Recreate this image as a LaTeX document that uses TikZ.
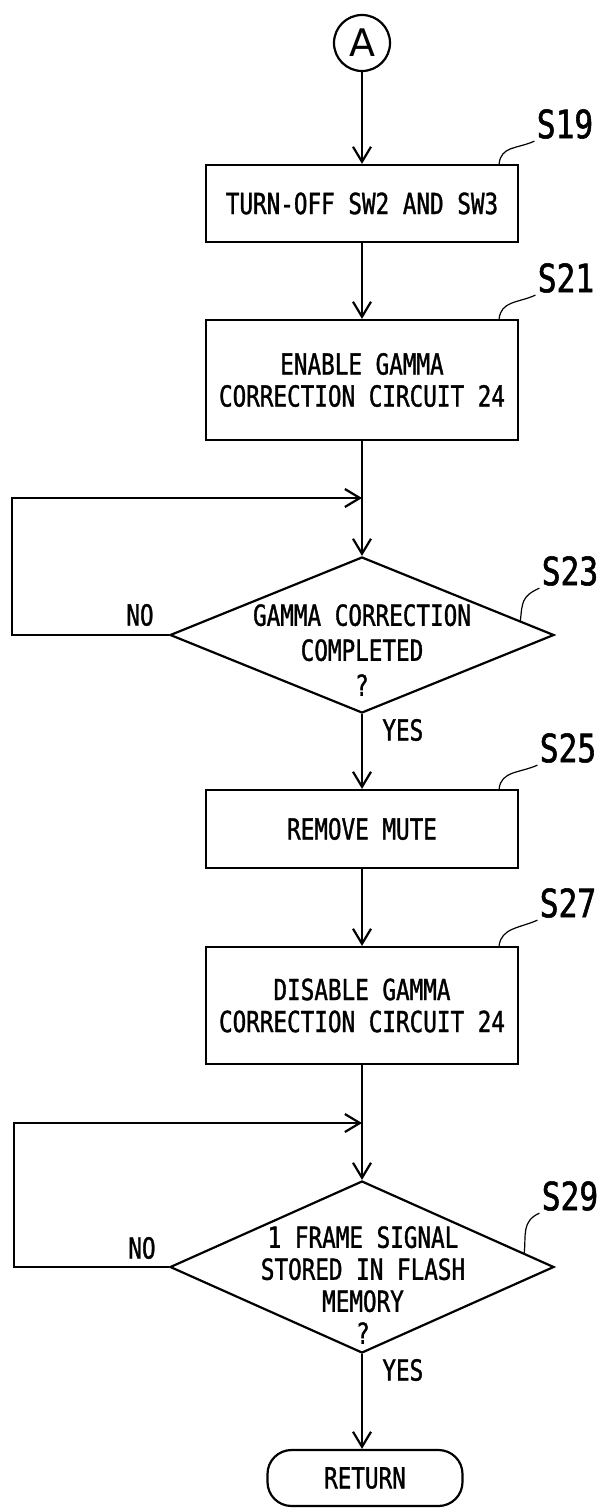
\documentclass[tikz,border=0pt]{standalone}
\usepackage{fontspec}
\setmainfont{DejaVu Sans Mono}[FakeStretch=0.78, FakeBold=1.2]
\newfontfamily\labfont{DejaVu Sans Mono}[FakeStretch=0.8, FakeBold=1.4]
\newfontfamily\circfont{DejaVu Sans}
\usetikzlibrary{shapes.geometric,arrows.meta,calc}
\tikzset{
  txt/.style={font=\fontsize{14.5}{16}\selectfont},
  proc/.style={draw, rectangle, line width=1.1pt, minimum width=156pt, align=center, inner sep=0pt, txt},
  dec/.style={draw, diamond, line width=1.1pt, inner sep=0pt},
  dtext/.style={align=center, inner sep=0pt, txt},
  term/.style={draw, rectangle, rounded corners=12pt, line width=1.1pt, minimum width=97.5pt, minimum height=28pt, inner sep=0pt, txt},
  conn/.style={draw, circle, line width=1.1pt, minimum size=28pt, inner sep=0pt, font=\circfont\fontsize{19}{19}\selectfont},
  steplabel/.style={inner sep=0pt, font=\labfont\fontsize{19.5}{19.5}\selectfont},
  yn/.style={inner sep=0pt, txt},
  flow/.style={-{Straight Barb[length=7.5pt,width=9pt]}, line width=1.1pt},
  leader/.style={line width=0.6pt},
}
\begin{document}
\begin{tikzpicture}[x=0.5pt,y=-0.5pt]
\useasboundingbox (0,0) rectangle (600,1508);
% nodes
\node[conn] (a) at (362,43) {A};
\node[proc, minimum height=38.5pt] (s19) at (362,203.5) {TURN-OFF SW2 AND SW3};
\node[proc, minimum height=60pt] (s21) at (362,380) {ENABLE GAMMA\\CORRECTION CIRCUIT 24};
\node[dec, minimum width=192pt, minimum height=78pt] (s23) at (362,635) {};
\node[dtext, font=\fontsize{14.5}{17.5}\selectfont] (t23) at (362,650) {GAMMA CORRECTION\\COMPLETED\\?};
\node[proc, minimum height=39pt] (s25) at (362,829) {REMOVE MUTE};
\node[proc, minimum height=58.5pt] (s27) at (362,1005.5) {DISABLE GAMMA\\CORRECTION CIRCUIT 24};
\node[dec, minimum width=192pt, minimum height=86pt] (s29) at (362,1267) {};
\node[dtext] (t29) at (363,1285) {1 FRAME SIGNAL\\STORED IN FLASH\\MEMORY\\?};
\node[term] (ret) at (365,1478) {RETURN};
% step labels
\node[steplabel] (n19) at (565,124) {S19};
\node[steplabel] (n21) at (566,278) {S21};
\node[steplabel] (n23) at (570,571) {S23};
\node[steplabel] (n25) at (568,748) {S25};
\node[steplabel] (n27) at (568,903) {S27};
\node[steplabel] (n29) at (570,1196) {S29};
% yes / no
\node[yn] (no23) at (140,615) {NO};
\node[yn, anchor=west] (yes23) at (382,730) {YES};
\node[yn] (no29) at (142,1248) {NO};
\node[yn, anchor=west] (yes29) at (382,1370) {YES};
% loop coordinates
\coordinate (j1) at (362,498);
\coordinate (l1) at (12,498);
\coordinate (j2) at (362,1123);
\coordinate (l2) at (14,1123);
% connectors
\draw[flow] (a) -- (s19);
\draw[flow] (s19) -- (s21);
\draw[flow] (s21) -- (s23);
\draw[flow] (s23.west) -| (l1) -- (j1);
\draw[flow] (s23) -- (s25);
\draw[flow] (s25) -- (s27);
\draw[flow] (s27) -- (s29);
\draw[flow] (s29.west) -| (l2) -- (j2);
\draw[flow] (s29.south) -- (s29.south |- ret.north);
% leaders
\draw[leader] ([xshift=-10pt]s19.north east) .. controls +(1pt,9pt) and +(-9pt,-4pt) .. ([xshift=-1pt,yshift=-1pt]n19.south west);
\draw[leader] ([xshift=-10pt]s21.north east) .. controls +(1pt,9pt) and +(-9pt,-4pt) .. ([xshift=-1pt,yshift=-1pt]n21.south west);
\draw[leader] ($(s23.north)!0.82!(s23.east)$) .. controls +(1pt,9pt) and +(-9pt,-4pt) .. ([xshift=-1pt,yshift=-1pt]n23.south west);
\draw[leader] ([xshift=-10pt]s25.north east) .. controls +(1pt,9pt) and +(-9pt,-4pt) .. ([xshift=-1pt,yshift=-1pt]n25.south west);
\draw[leader] ([xshift=-10pt]s27.north east) .. controls +(1pt,9pt) and +(-9pt,-4pt) .. ([xshift=-1pt,yshift=-1pt]n27.south west);
\draw[leader] ($(s29.north)!0.84!(s29.east)$) .. controls +(1pt,9pt) and +(-9pt,-4pt) .. ([xshift=-1pt,yshift=-1pt]n29.south west);
\end{tikzpicture}
\end{document}
